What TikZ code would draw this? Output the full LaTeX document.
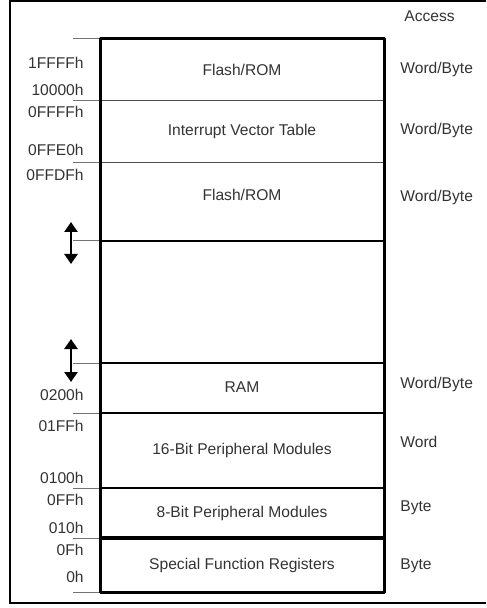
\documentclass[tikz,border=0pt]{standalone}
\usepackage{fontspec}
\setmainfont{Liberation Sans}
\usetikzlibrary{arrows.meta,positioning}

\begin{document}
\begin{tikzpicture}[
    x=0.5pt, y=-0.5pt,
    txt/.style={inner sep=0pt, text=black!80, font=\fontsize{7.8}{9}\selectfont},
    region/.style={txt, anchor=center},
    addr/.style={txt, anchor=east},
    access/.style={txt, anchor=west},
    frame/.style={line width=1pt},
    outline/.style={line width=1.5pt, line join=round},
    thinsep/.style={line width=0.5pt, black!70},
    thicksep/.style={line width=1.3pt},
    tick/.style={line width=0.5pt, black!55},
    gap/.style={{Triangle[length=5pt,width=6.5pt]}-{Triangle[length=5pt,width=6.5pt]}, line width=1.4pt}
]
\useasboundingbox (0,0) rectangle (486,608);

% outer frame (open at the right)
\draw[frame] (486,1) -- (10,1) -- (10,603) -- (486,603);

% boundary coordinates of the memory map
\foreach \y/\n in {39/b0,101/b1,163/b2,241/b3,363/b4,413/b5,488/b6,538/b7,592/b8} {
    \coordinate (\n w) at (100,\y);
    \coordinate (\n e) at (384,\y);
    \coordinate (\n t) at (73,\y);
}

% separators
\draw[thinsep] (b1w) -- (b1e);
\draw[thinsep] (b2w) -- (b2e);
\foreach \n in {b3,b4,b5,b6} {
    \draw[thicksep] (\n w) -- (\n e);
}
\draw[line width=1.7pt] (b7w) -- (b7e);

% address ticks
\foreach \n in {b0,b1,b2,b3,b4,b5,b6,b7,b8} {
    \draw[tick] (\n t) -- (\n w);
}

% memory block outline
\draw[outline] (b0w) rectangle (b8e);

% region names
\node[region] (flashhi) at (242,70) {Flash/ROM};
\node[region] (ivt) at (242,131) {Interrupt Vector Table};
\node[region] (flashlo) at (242,195) {Flash/ROM};
\node[region] (ram) at (242,387) {RAM};
\node[region] (per16) at (242,450) {16-Bit Peripheral Modules};
\node[region] (per8) at (242,513) {8-Bit Peripheral Modules};
\node[region] (sfr) at (242,565) {Special Function Registers};

% addresses
\node[addr] (a1) at (84,63) {1FFFFh};
\node[addr] (a2) at (84,90) {10000h};
\node[addr] (a3) at (84,112) {0FFFFh};
\node[addr] (a4) at (84,150) {0FFE0h};
\node[addr] (a5) at (84,175) {0FFDFh};
\node[addr] (a6) at (84,395) {0200h};
\node[addr] (a7) at (84,426) {01FFh};
\node[addr] (a8) at (84,478) {0100h};
\node[addr] (a9) at (84,500) {0FFh};
\node[addr] (a10) at (84,528) {010h};
\node[addr] (a11) at (84,550) {0Fh};
\node[addr] (a12) at (84,577) {0h};

% movable boundaries
\coordinate (g1top) at (71,222);
\coordinate (g1bot) at (71,264);
\coordinate (g2top) at (71,339);
\coordinate (g2bot) at (71,382);
\draw[gap] (g1top) -- (g1bot);
\draw[gap] (g2top) -- (g2bot);

% access column
\node[access] (acchead) at (404,16) {Access};
\node[access] (acc1) at (400,69) {Word/Byte};
\node[access] (acc2) at (400,130) {Word/Byte};
\node[access] (acc3) at (400,197) {Word/Byte};
\node[access] (acc4) at (400,384) {Word/Byte};
\node[access] (acc5) at (400,442) {Word};
\node[access] (acc6) at (400,508) {Byte};
\node[access] (acc7) at (400,566) {Byte};

\end{tikzpicture}
\end{document}
